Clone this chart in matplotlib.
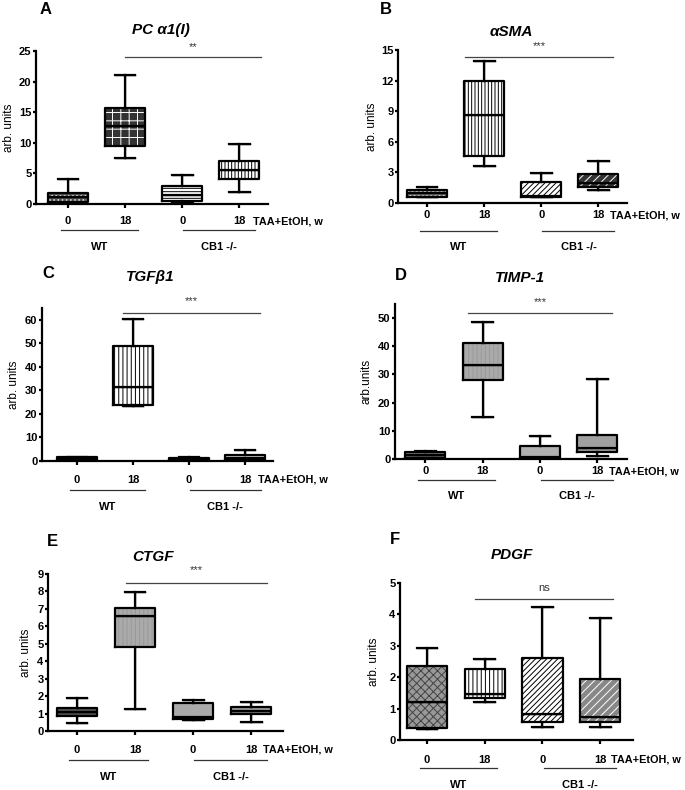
import numpy as np
import matplotlib.pyplot as plt
from matplotlib import transforms

plt.rcParams['font.family'] = ['Liberation Sans', 'DejaVu Sans']
plt.rcParams['font.weight'] = 'bold'
plt.rcParams['hatch.linewidth'] = 0.7

groups = ['0', '18', '0', '18']
genotypes = ['WT', 'CB1 -/-']
treatment = 'TAA+EtOH, w'

# box stats: whislo, q1, median, q3, whishi  (WT 0, WT 18, CB1 0, CB1 18)
pc_a1 = [[0.2, 0.3, 1.1, 1.8, 4.1], [7.5, 9.5, 12.8, 15.7, 21.0],
         [0.2, 0.5, 1.5, 2.9, 4.7], [2.0, 4.1, 5.5, 7.0, 9.8]]
asma = [[0.6, 0.6, 0.95, 1.27, 1.55], [3.6, 4.6, 8.6, 12.0, 13.9],
        [0.55, 0.6, 0.65, 2.05, 2.9], [1.3, 1.6, 2.0, 2.85, 4.1]]
tgfb1 = [[0.4, 0.6, 1.0, 1.5, 1.8], [23.5, 24.0, 31.5, 49.0, 60.5],
         [0.4, 0.6, 0.9, 1.3, 1.5], [0.3, 0.5, 1.2, 2.6, 4.8]]
timp1 = [[0.3, 0.5, 1.5, 2.5, 2.8], [15.0, 28.0, 33.2, 41.0, 48.5],
         [0.3, 0.5, 0.8, 4.5, 8.3], [1.2, 2.5, 3.8, 8.5, 28.5]]
ctgf = [[0.45, 0.85, 1.1, 1.3, 1.9], [1.25, 4.8, 6.6, 7.05, 7.95],
        [0.65, 0.7, 0.8, 1.6, 1.8], [0.5, 1.0, 1.15, 1.35, 1.65]]
pdgf = [[0.35, 0.38, 1.21, 2.36, 2.93], [1.21, 1.35, 1.45, 2.26, 2.58],
        [0.41, 0.57, 0.83, 2.61, 4.25], [0.42, 0.57, 0.73, 1.94, 3.87]]

panels = [
    dict(letter='A', title='PC \u03b11(I)', data=pc_a1, ylabel='arb. units', ymax=25, ystep=5, sig='**',
         box=(36, 268, 51, 204), xlim=(0.44, 4.5), sig_x=(2.0, 4.37), sig_y=(24.0, 25.6),
         title_xy=(161, 30), letter_xy=(40, 10), ylab_x=10, offs=(17, 26, 43), tx=14,
         fills=[('#555555', '....', '#dddddd'), ('#333333', '++', 'white'),
                ('white', '-----', 'black'), ('white', '|||||', 'black')]),
    dict(letter='B', title='\u03b1SMA', data=asma, ylabel='arb. units', ymax=15, ystep=3, sig='***',
         box=(398, 627, 50, 203), xlim=(0.49, 4.5), sig_x=(1.67, 4.26), sig_y=(14.3, 15.4),
         title_xy=(511, 32), letter_xy=(380, 10), ylab_x=373, offs=(12, 28, 44), tx=12,
         fills=[('#777777', '....', '#dddddd'), ('white', '|||||', 'black'),
                ('white', '//////', 'black'), ('#333333', '////', 'white')]),
    dict(letter='C', title='TGF\u03b21', data=tgfb1, ylabel='arb. units', ymax=65, ystep=10, sig='***',
         box=(42, 273, 308, 461), xlim=(0.375, 4.5), sig_x=(1.82, 4.27), sig_y=(63.0, 67.8),
         title_xy=(150, 277), letter_xy=(42, 273), ylab_x=15, offs=(19, 29, 46), tx=13,
         fills=[('#333333', '', 'black'), ('white', '||||', 'black'),
                ('#333333', '', 'black'), ('#444444', '----', 'white')]),
    dict(letter='D', title='TIMP-1', data=timp1, ylabel='arb.units', ymax=55, ystep=10, sig='***',
         box=(395, 627, 304, 459), xlim=(0.47, 4.52), sig_x=(1.74, 4.26), sig_y=(51.8, 55.8),
         title_xy=(520, 278), letter_xy=(395, 275), ylab_x=368, offs=(12, 21, 37), tx=12,
         fills=[('#777777', '', 'black'), ('#aaaaaa', '||||', '#999999'),
                ('#b0b0b0', '', 'black'), ('#a0a0a0', '', 'black')]),
    dict(letter='E', title='CTGF', data=ctgf, ylabel='arb. units', ymax=9, ystep=1, sig='***',
         box=(48, 283, 574, 731), xlim=(0.5, 4.55), sig_x=(1.84, 4.27), sig_y=(8.5, 9.25),
         title_xy=(153, 557), letter_xy=(47, 542), ylab_x=27, offs=(19, 29, 46), tx=12,
         fills=[('#555555', '', 'black'), ('#aaaaaa', '||||', '#999999'),
                ('#aaaaaa', '', 'black'), ('#999999', '', 'black')]),
    dict(letter='F', title='PDGF', data=pdgf, ylabel='arb. units', ymax=5, ystep=1, sig='ns',
         box=(400, 633, 583, 740), xlim=(0.53, 4.57), sig_x=(1.83, 4.22), sig_y=(4.5, 4.85),
         title_xy=(512, 555), letter_xy=(390, 540), ylab_x=375, offs=(20, 28, 45), tx=11,
         fills=[('#999999', 'xxxx', '#444444'), ('white', '||||', 'black'),
                ('white', '//////', 'black'), ('#888888', '////', 'white')]),
]

W, H = 685, 790
fig = plt.figure(figsize=(W / 100, H / 100), dpi=100)
pos = np.arange(1, 5)
lw = 1.6

for p in panels:
    l, r, t, b = p['box']
    ax = fig.add_axes([l / W, 1 - b / H, (r - l) / W, (b - t) / H])
    stats = [dict(whislo=s[0], q1=s[1], med=s[2], q3=s[3], whishi=s[4]) for s in p['data']]

    # fills with hatches (hatch colour comes from the edge colour)
    fill = ax.bxp(stats, positions=pos, widths=0.7, capwidths=0.36, patch_artist=True,
                  showfliers=False, manage_ticks=False,
                  medianprops=dict(color='black'))
    for patch, (fc, hatch, hc) in zip(fill['boxes'], p['fills']):
        patch.set_facecolor(fc)
        patch.set_edgecolor(hc)
        patch.set_hatch(hatch)
        patch.set_linewidth(0)
    # black outlines on top
    ax.bxp(stats, positions=pos, widths=0.7, capwidths=0.36, showfliers=False, manage_ticks=False,
           boxprops=dict(color='black', lw=lw), whiskerprops=dict(color='black', lw=lw),
           capprops=dict(color='black', lw=lw), medianprops=dict(color='black', lw=lw))

    ax.set_xlim(p['xlim'])
    ax.set_ylim(0, p['ymax'])
    ax.set_yticks(np.arange(0, p['ymax'] + 0.01, p['ystep']))
    ax.set_xticks(pos)
    ax.set_xticklabels(groups)
    for s in ['top', 'right']:
        ax.spines[s].set_visible(False)
    for s in ['left', 'bottom']:
        ax.spines[s].set_linewidth(lw)
    pad = (p['offs'][0] - 4 - 5.5) * 0.72
    ax.tick_params(axis='x', length=3, width=lw, pad=max(pad, 0.5), labelsize=8)
    ax.tick_params(axis='y', length=2.5, width=lw, pad=0.8, labelsize=8)

    ax.set_ylabel(p['ylabel'], fontsize=8.5)
    ax.yaxis.set_label_coords((p['ylab_x'] + 5 - l) / (r - l), 0.5)

    hpx = b - t
    ax.annotate(treatment, xy=(4, 0), xycoords=('data', 'axes fraction'),
                xytext=(p['tx'] * 0.72, -p['offs'][0] * 0.72), textcoords='offset points',
                ha='left', va='center', fontsize=7.8, annotation_clip=False)

    trans = transforms.blended_transform_factory(ax.transData, ax.transAxes)
    yl = -p['offs'][1] / hpx
    yt = -p['offs'][2] / hpx
    for (x0, x1), name in zip([(0.87, 2.22), (3.02, 4.28)], genotypes):
        ax.plot([x0, x1], [yl, yl], transform=trans, clip_on=False, color='#333333', lw=0.9)
        ax.text((x0 + x1) / 2, yt, name, transform=trans, ha='center', va='center', fontsize=8)

    ax.plot(p['sig_x'], [p['sig_y'][0]] * 2, color='#444444', lw=0.9, clip_on=False)
    ax.text(np.mean(p['sig_x']), p['sig_y'][1], p['sig'], ha='center', va='center',
            fontsize=8, fontweight='normal', color='#333333')

    fig.text(p['title_xy'][0] / W, 1 - p['title_xy'][1] / H, p['title'], ha='center', va='center',
             fontsize=11, style='italic')
    fig.text(p['letter_xy'][0] / W, 1 - p['letter_xy'][1] / H, p['letter'], ha='left', va='center',
             fontsize=12)

fig.savefig('out.png', dpi=100)
